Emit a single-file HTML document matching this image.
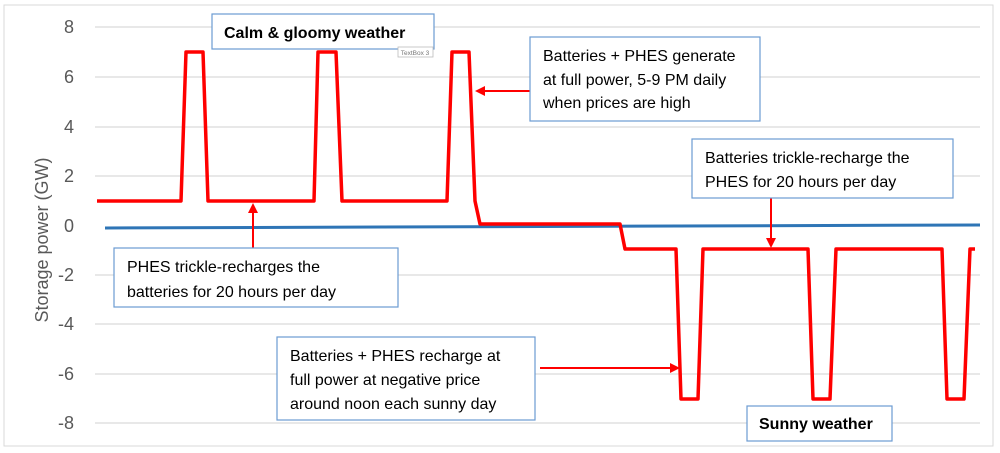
<!DOCTYPE html>
<html><head><meta charset="utf-8"><style>
html,body{margin:0;padding:0;background:#fff}
svg{display:block}
text{font-family:"Liberation Sans",Arial,sans-serif}
</style></head><body>
<svg width="1000" height="453" viewBox="0 0 1000 453" xmlns="http://www.w3.org/2000/svg">
<rect x="0" y="0" width="1000" height="453" fill="#fff"/>
<rect x="4" y="5" width="989" height="441" fill="#fff" stroke="#d9d9d9" stroke-width="1"/>
<g stroke="#d9d9d9" stroke-width="1.2">
<line x1="95" y1="27" x2="980" y2="27"/>
<line x1="95" y1="77" x2="980" y2="77"/>
<line x1="95" y1="127" x2="980" y2="127"/>
<line x1="95" y1="176" x2="980" y2="176"/>
<line x1="95" y1="275" x2="980" y2="275"/>
<line x1="95" y1="324" x2="980" y2="324"/>
<line x1="95" y1="374" x2="980" y2="374"/>
<line x1="95" y1="423" x2="980" y2="423"/>
</g>
<g fill="#595959" font-size="18" text-anchor="end">
<text x="74" y="33">8</text>
<text x="74" y="83">6</text>
<text x="74" y="133">4</text>
<text x="74" y="182">2</text>
<text x="74" y="232">0</text>
<text x="74" y="281">-2</text>
<text x="74" y="330">-4</text>
<text x="74" y="380">-6</text>
<text x="74" y="429">-8</text>
</g>
<text transform="translate(48,240) rotate(-90)" text-anchor="middle" font-size="18" fill="#595959">Storage power (GW)</text>
<line x1="105" y1="228" x2="980" y2="225" stroke="#2e75b6" stroke-width="3"/>
<polyline fill="none" stroke="#ff0000" stroke-width="3.5" stroke-linejoin="round"
points="97,201 181,201 186,52 203,52 208,201 314,201 318,52 336,52 342,201 447,201 452,52 469,52 475,201 480,224 620,224 625,249 676,249 681,399 698,399 703,249 808,249 813,399 830,399 836,249 942,249 947,399 964,399 970,249 975,249"/>
<g stroke="#ff0000" stroke-width="2" fill="#ff0000">
<line x1="530" y1="91" x2="482" y2="91"/><polygon points="475,91 485,86 485,96" stroke="none"/>
<line x1="771" y1="198" x2="771" y2="240"/><polygon points="771,248 766,238 776,238" stroke="none"/>
<line x1="253" y1="248" x2="253" y2="211"/><polygon points="253,203 248,213 258,213" stroke="none"/>
<line x1="540" y1="368" x2="672" y2="368"/><polygon points="680,368 670,363 670,373" stroke="none"/>
</g>
<g fill="#fff" stroke="#6c9bd2" stroke-width="1.2">
<rect x="212" y="14" width="222" height="35"/>
<rect x="530" y="37" width="230" height="84"/>
<rect x="692" y="139" width="261" height="59"/>
<rect x="114" y="248" width="284" height="59"/>
<rect x="277" y="337" width="258" height="83"/>
<rect x="747" y="406" width="145" height="35"/>
</g>
<rect x="398" y="47" width="35" height="10" fill="#fff" stroke="#bbb" stroke-width="0.8"/>
<text x="415" y="55" font-size="6.5" fill="#777" text-anchor="middle">TextBox 3</text>
<g font-size="16" fill="#000">
<text x="224" y="38" font-weight="bold">Calm &amp; gloomy weather</text>
<text x="543" y="61">Batteries + PHES generate</text>
<text x="543" y="85">at full power, 5-9 PM daily</text>
<text x="543" y="108">when prices are high</text>
<text x="705" y="163">Batteries trickle-recharge the</text>
<text x="705" y="187">PHES for 20 hours per day</text>
<text x="127" y="272">PHES trickle-recharges the</text>
<text x="127" y="297">batteries for 20 hours per day</text>
<text x="290" y="361">Batteries + PHES recharge at</text>
<text x="290" y="385">full power at negative price</text>
<text x="290" y="409">around noon each sunny day</text>
<text x="759" y="429" font-weight="bold">Sunny weather</text>
</g>
</svg>
</body></html>
